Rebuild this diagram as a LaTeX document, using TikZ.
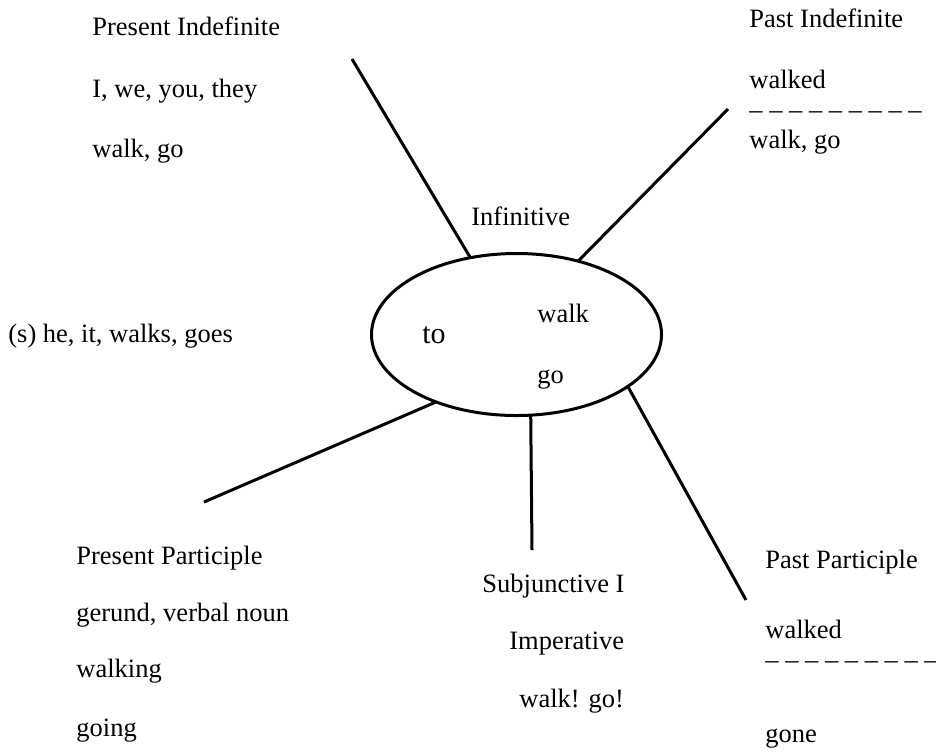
\documentclass[tikz,border=0pt]{standalone}
\usepackage{fontspec}
\setmainfont{Liberation Serif}
\usetikzlibrary{shapes.geometric}
\tikzset{
  lbl/.style={anchor=base west, inner sep=0pt, font=\fontsize{13.25}{16}\selectfont},
  stem/.style={line width=1.5pt},
}
\def\drawstem{\draw[stem]}
\def\lblnode{\node[lbl]}
\def\dashrow{– – – – – – – – –}

\begin{document}
\begin{tikzpicture}[x=0.5pt,y=-0.5pt]
\useasboundingbox (0,0) rectangle (936,752);

% the infinitive in the middle
\node[ellipse, draw, line width=1.5pt, minimum width=145pt, minimum height=81pt,
      inner sep=0pt, outer sep=0pt] (inf) at (516.5,334.5) {};
\lblnode (inf_title) at (471,225) {Infinitive};
\lblnode[font=\fontsize{15}{18}\selectfont] (inf_to) at (422,343) {to};
\lblnode (inf_walk) at (537,322) {walk};
\lblnode (inf_go) at (537,383) {go};

% Present Indefinite (top left)
\lblnode (pres_ind) at (92,35) {Present Indefinite};
\lblnode (pres_ind_pron) at (92,97) {I, we, you, they};
\lblnode (pres_ind_form) at (92,157) {walk, go};
\lblnode (pres_ind_s) at (8,342) {(s) he, it, walks, goes};
\coordinate (pres_ind_end) at (352,59);
\drawstem (pres_ind_end) -- (inf.121.8);

% Past Indefinite (top right)
\lblnode (past_ind) at (749,27) {Past Indefinite};
\lblnode (past_ind_form) at (749,88) {walked};
\lblnode (past_ind_rule) at (749,118) {\dashrow};
\lblnode (past_ind_irr) at (749,148) {walk, go};
\coordinate (past_ind_end) at (728,109);
\drawstem (past_ind_end) -- (inf.50.4);

% Present Participle (bottom left)
\lblnode (pres_part) at (76,564) {Present Participle};
\lblnode (pres_part_ger) at (76,621) {gerund, verbal noun};
\lblnode (pres_part_form) at (76,677) {walking};
\lblnode (pres_part_irr) at (76,736) {going};
\coordinate (pres_part_end) at (204,502);
\drawstem (pres_part_end) -- (inf.220.2);

% Subjunctive I / Imperative (bottom)
\lblnode (subj) at (482,592) {Subjunctive I};
\lblnode (imper) at (509,649) {Imperative};
\lblnode (imper_form) at (519,707) {walk! go!};
\coordinate (subj_end) at (532,550);
\drawstem (subj_end) -- (inf.280.3);

% Past Participle (bottom right)
\lblnode (past_part) at (765,568) {Past Participle};
\lblnode (past_part_form) at (765,638) {walked};
\lblnode (past_part_rule) at (765,668) {\dashrow};
\lblnode (past_part_irr) at (765,742) {gone};
\coordinate (past_part_end) at (746,600);
\drawstem (past_part_end) -- (inf.335.1);
\end{tikzpicture}
\end{document}
